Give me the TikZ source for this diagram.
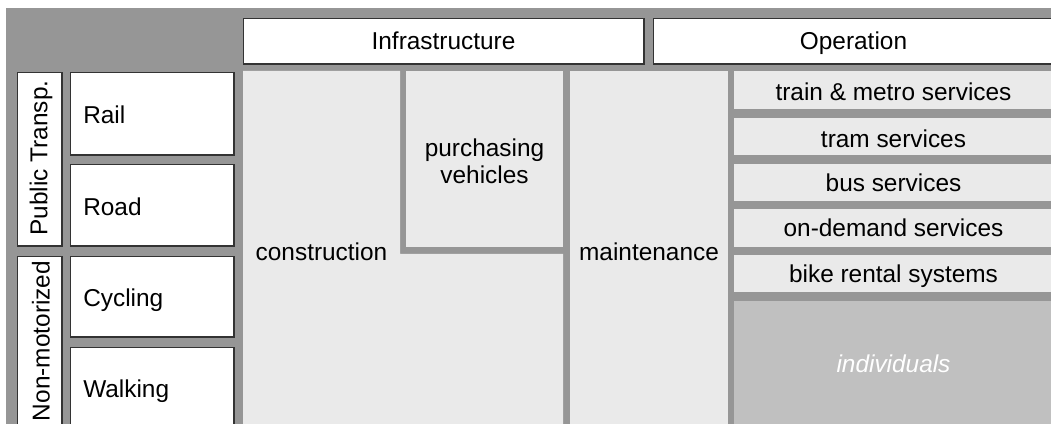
\documentclass[tikz,border=0pt]{standalone}
\usepackage{fontspec}
\setmainfont{Liberation Sans}
\definecolor{framegray}{HTML}{969696}
\definecolor{panelgray}{HTML}{EAEAEA}
\definecolor{indivgray}{HTML}{C0C0C0}
\definecolor{edgegray}{HTML}{333333}
\tikzset{
  whitebox/.style={fill=white, draw=edgegray, line width=0.8pt},
  panel/.style={fill=panelgray},
  lbl/.style={inner sep=0pt, font=\fontsize{18.3}{21}\selectfont, text=black},
  sidelbl/.style={lbl, rotate=90},
}
\begin{document}
\begin{tikzpicture}[x=0.75pt, y=-0.75pt]
\useasboundingbox (0,0) rectangle (1051,424);
\clip (0,0) rectangle (1051,424);

% grey frame behind everything
\fill[framegray] (6,8) rectangle (1070,440);

% column headers
\path[whitebox] (243.5,18.5) rectangle (644,64);
\path[whitebox] (653.5,18.5) rectangle (1054,64);

% row headers: groups
\path[whitebox] (17.5,72.5) rectangle (62,246);
\path[whitebox] (17.5,256.5) rectangle (62,430);

% row headers: modes
\path[whitebox] (70.5,72.5) rectangle (234,155);
\path[whitebox] (70.5,164.5) rectangle (234,246);
\path[whitebox] (70.5,256.5) rectangle (234,337);
\path[whitebox] (70.5,347.5) rectangle (234,430);

% infrastructure panels
\fill[panel] (243,71) -- (400,71) -- (400,254) -- (563,254) -- (563,440) -- (243,440) -- cycle;
\fill[panel] (406,71) rectangle (563,247);
\fill[panel] (570,71) rectangle (728,440);

% operation panels
\fill[panel] (734,71) rectangle (1060,109);
\fill[panel] (734,118) rectangle (1060,155);
\fill[panel] (734,164) rectangle (1060,201);
\fill[panel] (734,209) rectangle (1060,247);
\fill[panel] (734,255) rectangle (1060,292);
\fill[indivgray] (734,301) rectangle (1060,440);

% texts
\node[lbl, anchor=base] (infra) at (443.5,50) {Infrastructure};
\node[lbl, anchor=base] (oper) at (853.5,50) {Operation};

\node[sidelbl] (pt) at (41,158) {Public Transp.};
\node[sidelbl] (nm) at (41,341) {Non-motorized};

\node[lbl, anchor=base west] (rail) at (83,123.5) {Rail};
\node[lbl, anchor=base west] (road) at (83,215.5) {Road};
\node[lbl, anchor=base west] (cyc) at (83,306.5) {Cycling};
\node[lbl, anchor=base west] (walk) at (83,397.5) {Walking};

\node[lbl, anchor=base] (constr) at (321.5,261) {construction};
\node[lbl, anchor=base] (purch) at (484.5,157) {purchasing};
\node[lbl, anchor=base] (veh) at (484.5,183.5) {vehicles};
\node[lbl, anchor=base] (maint) at (649,260.5) {maintenance};

\node[lbl, anchor=base] (train) at (893.5,101) {train \& metro services};
\node[lbl, anchor=base] (tram) at (893.5,147.5) {tram services};
\node[lbl, anchor=base] (bus) at (893.5,191.5) {bus services};
\node[lbl, anchor=base] (ondem) at (893.5,237) {on-demand services};
\node[lbl, anchor=base] (bike) at (893.5,282.5) {bike rental systems};
\node[lbl, anchor=base, text=white, font=\fontsize{18.3}{21}\selectfont\itshape] (indiv) at (893.5,372.5) {individuals};
\end{tikzpicture}
\end{document}
